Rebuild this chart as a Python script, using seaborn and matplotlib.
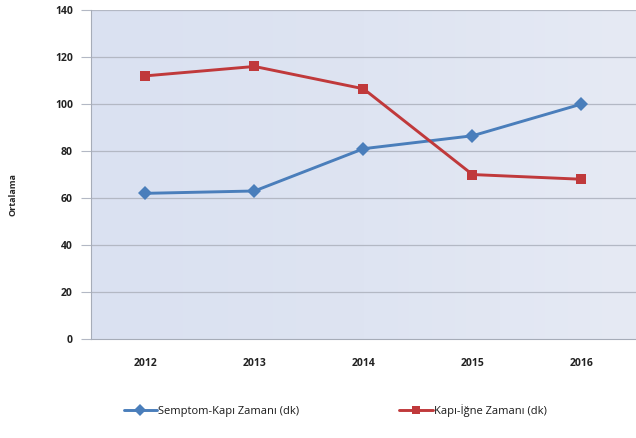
import matplotlib
matplotlib.use("Agg")
import matplotlib.pyplot as plt
import seaborn as sns
import pandas as pd
import numpy as np
from matplotlib.colors import LinearSegmentedColormap

years = ["2012", "2013", "2014", "2015", "2016"]
semptom_kapi = [62, 63, 81, 86.5, 100]
kapi_igne = [112, 116, 106.5, 70, 68]
series_names = ["Semptom-Kapı Zamanı (dk)", "Kapı-İğne Zamanı (dk)"]
yticks = [0, 20, 40, 60, 80, 100, 120, 140]

df = pd.DataFrame({
    "Yıl": years * 2,
    "Değer": semptom_kapi + kapi_igne,
    "Seri": [series_names[0]] * len(years) + [series_names[1]] * len(years),
})

sns.set_style("white")
plt.rcParams["font.family"] = ["Open Sans", "DejaVu Sans"]

fig = plt.figure(figsize=(6.36, 4.38), dpi=100)
ax = fig.add_axes([0.143, 0.226, 0.857, 0.751])

# gradient background
grad = np.linspace(0, 1, 256).reshape(1, -1)
cmap = LinearSegmentedColormap.from_list("bg", ["#DAE1F1", "#DEE4F2", "#E6EAF4"])
ax.imshow(grad, extent=[-0.5, 4.5, 0, 140], aspect="auto", cmap=cmap, zorder=0)

for y in yticks[1:]:
    ax.axhline(y, color="#B3B8C4", lw=0.9, zorder=1)

sns.lineplot(data=df, x="Yıl", y="Değer", hue="Seri", style="Seri",
             markers={series_names[0]: "D", series_names[1]: "s"},
             dashes=False, markersize=7.5, linewidth=2.1,
             palette={series_names[0]: "#4A7EBB", series_names[1]: "#C0393B"},
             markeredgewidth=0, ax=ax, zorder=3, sort=False)

ax.set_xlim(-0.5, 4.5)
ax.set_ylim(0, 140)
ax.set_yticks(yticks)
ax.set_yticklabels([str(v) for v in yticks], fontsize=7.5, fontweight="bold", color="#222222")
ax.set_xticks(range(len(years)))
ax.set_xticklabels(years, fontsize=7.5, fontweight="bold", color="#222222")
ax.tick_params(axis="y", length=7, color="#B3B8C4", pad=6, left=True)
ax.tick_params(axis="x", length=0, pad=14)
ax.set_xlabel("")
ax.set_ylabel("Ortalama", fontsize=6.5, fontweight="bold")
ax.yaxis.set_label_coords(-0.135, 0.44)

for s in ["top", "right"]:
    ax.spines[s].set_visible(False)
ax.spines["left"].set_color("#A6ACB8")
ax.spines["bottom"].set_color("#A6ACB8")

handles, labels = ax.get_legend_handles_labels()
ax.legend_.remove()
fig.legend(handles, labels, loc="center", bbox_to_anchor=(0.527, 0.062), ncol=2,
           frameon=False, fontsize=8, columnspacing=9, handlelength=3,
           handletextpad=0.1, markerscale=0.8, labelcolor="#1a1a1a")

fig.savefig("out.png", dpi=100)
